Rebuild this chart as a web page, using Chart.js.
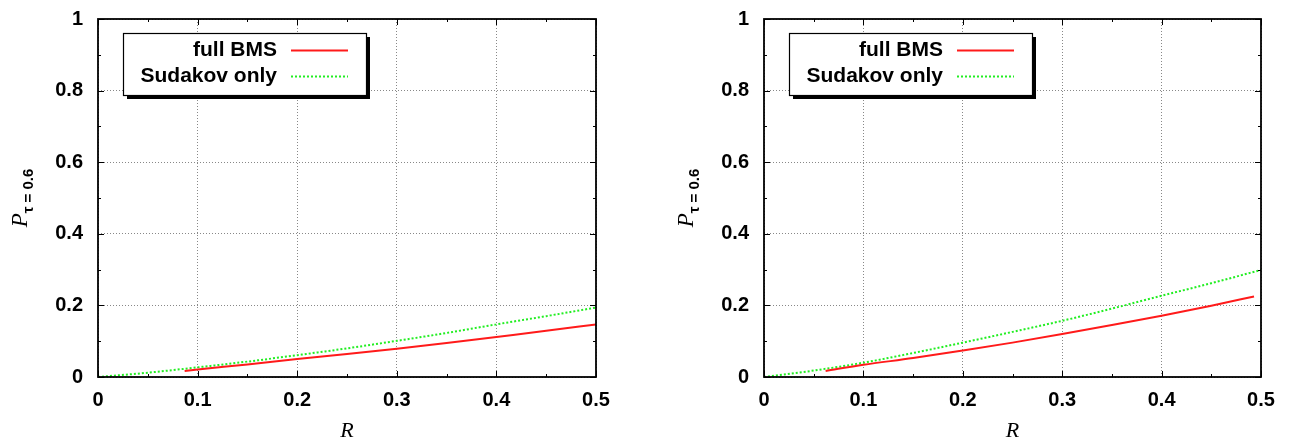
<!DOCTYPE html>
<html>
<head>
<meta charset="utf-8">
<script src="https://cdn.jsdelivr.net/npm/chart.js@4.4.1/dist/chart.umd.min.js"></script>
<style>
    html, body { margin: 0; padding: 0; background: #fff; }
    .panel { position: absolute; top: 0; height: 440px; }
</style>
</head>
<body>
<div class="panel" style="left:0"><canvas id="left" width="644" height="440"></canvas></div>
<div class="panel" style="left:644px"><canvas id="right" width="645" height="440"></canvas></div>
<script>
/* ─── Data ─── */
const rGrid      = [0, 0.05, 0.1, 0.15, 0.2, 0.25, 0.3, 0.35, 0.4, 0.45, 0.5];
const sudLeft    = [0, 0.012, 0.027, 0.043, 0.061, 0.080, 0.101, 0.123, 0.147, 0.170, 0.194];
const fullLeftR  = [0.087, 0.1, 0.15, 0.2, 0.25, 0.3, 0.35, 0.4, 0.45, 0.5];
const fullLeft   = [0.017, 0.021, 0.035, 0.050, 0.064, 0.079, 0.095, 0.112, 0.129, 0.147];

const sudRight   = [0, 0.018, 0.040, 0.067, 0.096, 0.126, 0.157, 0.191, 0.227, 0.262, 0.299];
const fullRightR = [0.062, 0.1, 0.15, 0.2, 0.25, 0.3, 0.35, 0.4, 0.45, 0.493];
const fullRight  = [0.017, 0.034, 0.053, 0.074, 0.096, 0.120, 0.145, 0.171, 0.199, 0.225];

const xTickLabels = ['0', '0.1', '0.2', '0.3', '0.4', '0.5'];
const yTickLabels = ['0', '0.2', '0.4', '0.6', '0.8', '1'];
const seriesLabels = ['full BMS', 'Sudakov only'];

const SANS = '"Liberation Sans", Arial, sans-serif';
const SERIF = '"Liberation Serif", "Times New Roman", serif';
const TICK_FONT = { family: SANS, size: 20, weight: 'bold' };

const toPoints = (xs, ys) => xs.map((x, i) => ({ x: x, y: ys[i] }));

/* ─── Frame, inward ticks, axis titles and boxed legend ─── */
const gnuplotDecor = {
    id: 'gnuplotDecor',
    afterDraw(chart, args, opts) {
        const { ctx, chartArea: a, scales: { x, y } } = chart;
        ctx.save();
        ctx.strokeStyle = '#000';
        ctx.lineWidth = 1;
        ctx.beginPath();
        for (let v = 0; v <= 0.5001; v += 0.05) {
            const px = Math.round(x.getPixelForValue(v)) + 0.5;
            const len = Math.abs(v * 10 - Math.round(v * 10)) < 1e-6 ? 6 : 3;
            ctx.moveTo(px, a.bottom); ctx.lineTo(px, a.bottom - len);
            ctx.moveTo(px, a.top);    ctx.lineTo(px, a.top + len);
        }
        for (let v = 0; v <= 1.0001; v += 0.1) {
            const py = Math.round(y.getPixelForValue(v)) + 0.5;
            const len = Math.abs(v * 5 - Math.round(v * 5)) < 1e-6 ? 6 : 3;
            ctx.moveTo(a.left, py);  ctx.lineTo(a.left + len, py);
            ctx.moveTo(a.right, py); ctx.lineTo(a.right - len, py);
        }
        ctx.stroke();

        ctx.lineWidth = 1.8;
        ctx.strokeRect(a.left, a.top, a.right - a.left, a.bottom - a.top);

        // x title
        ctx.fillStyle = '#000';
        ctx.font = 'italic 22px ' + SERIF;
        ctx.textAlign = 'center';
        ctx.textBaseline = 'alphabetic';
        ctx.fillText('R', (a.left + a.right) / 2, 437);

        // y title, rotated
        ctx.save();
        ctx.translate(opts.yTitleX, 198);
        ctx.rotate(-Math.PI / 2);
        ctx.textAlign = 'left';
        ctx.font = 'italic 23px ' + SERIF;
        const pw = ctx.measureText('P').width;
        const sub = 'τ = 0.6';
        ctx.font = 'bold 15px ' + SANS;
        const sw = ctx.measureText(sub).width;
        const start = -(pw + sw) / 2;
        ctx.font = 'italic 23px ' + SERIF;
        ctx.fillText('P', start, 0);
        ctx.font = 'bold 15px ' + SANS;
        ctx.fillText(sub, start + pw, 6);
        ctx.restore();

        // legend box with shadow
        const L = opts.legend;
        ctx.fillStyle = '#000';
        ctx.fillRect(L.x + 4, L.y + 4, L.w, L.h);
        ctx.fillStyle = '#fff';
        ctx.fillRect(L.x, L.y, L.w, L.h);
        ctx.lineWidth = 1.2;
        ctx.strokeStyle = '#000';
        ctx.strokeRect(L.x + 0.5, L.y + 0.5, L.w, L.h);

        ctx.font = 'bold 21px ' + SANS;
        ctx.textAlign = 'right';
        ctx.textBaseline = 'middle';
        chart.data.datasets.forEach((ds, i) => {
            const ly = L.y + 17 + i * 26;
            ctx.fillStyle = '#000';
            ctx.fillText(ds.label, L.textRight, ly);
            ctx.strokeStyle = ds.borderColor;
            ctx.lineWidth = ds.borderWidth;
            ctx.setLineDash(ds.borderDash || []);
            ctx.beginPath();
            ctx.moveTo(L.textRight + 14, ly + 0.5);
            ctx.lineTo(L.textRight + 71, ly + 0.5);
            ctx.stroke();
            ctx.setLineDash([]);
        });
        ctx.restore();
    }
};

function makeChart(canvasId, full, sud, yWidth, padRight, decor) {
    const canvas = document.getElementById(canvasId);
    return new Chart(canvas, {
        type: 'line',
        data: {
            datasets: [
                {
                    label: seriesLabels[0],
                    data: full,
                    borderColor: '#ff1a1a',
                    borderWidth: 2,
                    pointRadius: 0,
                    cubicInterpolationMode: 'monotone',
                },
                {
                    label: seriesLabels[1],
                    data: sud,
                    borderColor: '#22ee22',
                    borderWidth: 2,
                    borderDash: [2, 2],
                    pointRadius: 0,
                    cubicInterpolationMode: 'monotone',
                }
            ]
        },
        options: {
            responsive: false,
            animation: false,
            layout: { padding: { top: 19, right: padRight, left: 0, bottom: 0 } },
            plugins: {
                legend: { display: false },
                tooltip: { enabled: false },
                gnuplotDecor: decor
            },
            scales: {
                x: {
                    type: 'linear',
                    min: 0, max: 0.5,
                    afterFit: s => { s.height = 63; s.paddingLeft = 0; s.paddingRight = 0; },
                    afterBuildTicks: s => { s.ticks = xTickLabels.map(t => ({ value: parseFloat(t) })); },
                    ticks: {
                        color: '#000', font: TICK_FONT, padding: 11, maxRotation: 0,
                        callback: (v, i) => xTickLabels[i]
                    },
                    grid: { color: '#888', lineWidth: 1, drawTicks: false },
                    border: { display: false, dash: [1, 2] }
                },
                y: {
                    type: 'linear',
                    min: 0, max: 1,
                    afterFit: s => { s.width = yWidth; s.paddingTop = 0; s.paddingBottom = 0; },
                    afterBuildTicks: s => { s.ticks = yTickLabels.map(t => ({ value: parseFloat(t) })); },
                    ticks: {
                        color: '#000', font: TICK_FONT, padding: 15,
                        callback: (v, i) => yTickLabels[i]
                    },
                    grid: { color: '#888', lineWidth: 1, drawTicks: false },
                    border: { display: false, dash: [1, 2] }
                }
            }
        },
        plugins: [gnuplotDecor]
    });
}

makeChart('left', toPoints(fullLeftR, fullLeft), toPoints(rGrid, sudLeft), 98, 48, {
    yTitleX: 27,
    legend: { x: 123, y: 33, w: 243, h: 62, textRight: 277 }
});

makeChart('right', toPoints(fullRightR, fullRight), toPoints(rGrid, sudRight), 120, 28, {
    yTitleX: 49,
    legend: { x: 789 - 644, y: 33, w: 243, h: 62, textRight: 943 - 644 }
});
</script>
</body>
</html>
